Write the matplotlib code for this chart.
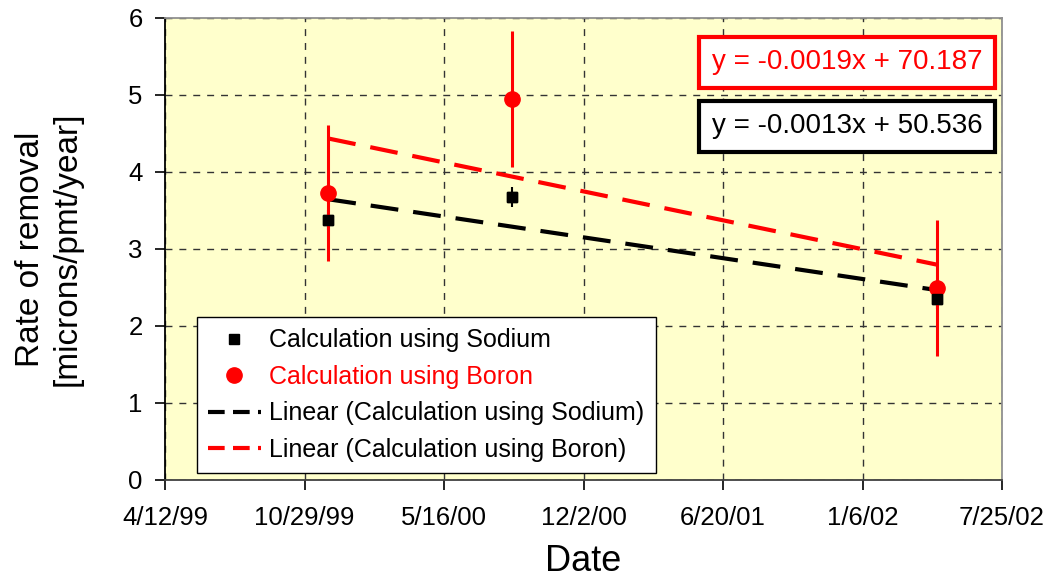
import datetime as dt
import numpy as np
import matplotlib
matplotlib.use("Agg")
import matplotlib.pyplot as plt
import matplotlib.dates as mdates
from matplotlib.ticker import FixedLocator, FuncFormatter
from matplotlib.lines import Line2D

plt.rcParams["font.family"] = ["Liberation Sans", "DejaVu Sans"]

# measurement dates and removal rates
dates = [dt.date(1999, 12, 2), dt.date(2000, 8, 22), dt.date(2002, 4, 23)]
sodium = [3.38, 3.67, 2.35]
sodium_err = [0.13, 0.13, 0.13]
boron = [3.73, 4.95, 2.49]
boron_err = [0.88, 0.88, 0.88]

eq_boron = "y = -0.0019x + 70.187"
eq_sodium = "y = -0.0013x + 50.536"

x0 = dt.date(1999, 4, 12)
x_ticks = [x0 + dt.timedelta(days=200 * k) for k in range(7)]

xn = mdates.date2num(dates)

fig = plt.figure(figsize=(10.57, 5.79), dpi=100)
ax = fig.add_axes([0.1561, 0.171, 0.7919, 0.798])
ax.set_facecolor("#FFFFCC")

# linear trend lines over the measured span
for vals, col in [(sodium, "black"), (boron, "red")]:
    k, b = np.polyfit(xn, vals, 1)
    xs = np.array([xn[0], xn[-1]])
    ax.plot(xs, k * xs + b, color=col, lw=3, dashes=(6.7, 3.6), zorder=3)

ax.errorbar(xn, sodium, yerr=sodium_err, fmt="s", color="black", ms=7.5,
            elinewidth=1.5, capsize=0, zorder=4)
ax.errorbar(xn, boron, yerr=boron_err, fmt="o", color="red", ms=11,
            elinewidth=2.2, capsize=0, zorder=5)
ax.plot(xn, sodium, "s", color="black", ms=7.5, zorder=6)

ax.set_xlim(mdates.date2num(x_ticks[0]), mdates.date2num(x_ticks[-1]))
ax.set_ylim(0, 6)
ax.xaxis.set_major_locator(FixedLocator(mdates.date2num(x_ticks)))
ax.xaxis.set_major_formatter(FuncFormatter(
    lambda v, p: (lambda d: f"{d.month}/{d.day}/{d:%y}")(mdates.num2date(v))))
ax.set_yticks(range(7))

ax.grid(True, color="#333333", lw=1, dashes=(5, 5))
ax.set_axisbelow(True)
ax.tick_params(direction="out", length=7, width=1.2, labelsize=18.5)
ax.tick_params(axis="x", pad=12)
ax.tick_params(axis="y", pad=9)
ax.spines["left"].set_color("black")
ax.spines["bottom"].set_color("#404040")
ax.spines["top"].set_color("#909090")
ax.spines["right"].set_color("#909090")
for s in ax.spines.values():
    s.set_linewidth(1.3)

ax.set_xlabel("Date", fontsize=26, labelpad=10)
ax.set_ylabel("Rate of removal\n[microns/pmt/year]", fontsize=24,
              linespacing=1.25, va="center")
ax.yaxis.set_label_coords(-0.139, 0.5)

handles = [
    Line2D([], [], ls="none", marker="s", color="black", ms=7),
    Line2D([], [], ls="none", marker="o", color="red", ms=11),
    Line2D([], [], color="black", lw=3, dashes=(4, 2)),
    Line2D([], [], color="red", lw=3, dashes=(4, 2)),
]
labels = ["Calculation using Sodium", "Calculation using Boron",
          "Linear (Calculation using Sodium)", "Linear (Calculation using Boron)"]
leg = ax.legend(handles, labels, loc="lower left",
                bbox_to_anchor=(0.038, 0.015), borderaxespad=0, fontsize=18,
                frameon=True, fancybox=False, framealpha=1, edgecolor="black",
                handlelength=2.1, labelspacing=0.5, borderpad=0.45,
                handletextpad=0.35)
leg.get_frame().set_linewidth(1)
leg.get_texts()[1].set_color("red")

ax.text(0.815, 0.904, eq_boron, transform=ax.transAxes, fontsize=20,
        color="red", ha="center", va="center",
        bbox=dict(boxstyle="square,pad=0.45", fc="white", ec="red", lw=3))
ax.text(0.815, 0.766, eq_sodium, transform=ax.transAxes, fontsize=20,
        color="black", ha="center", va="center",
        bbox=dict(boxstyle="square,pad=0.45", fc="white", ec="black", lw=3))

fig.savefig("out.png", dpi=100)
